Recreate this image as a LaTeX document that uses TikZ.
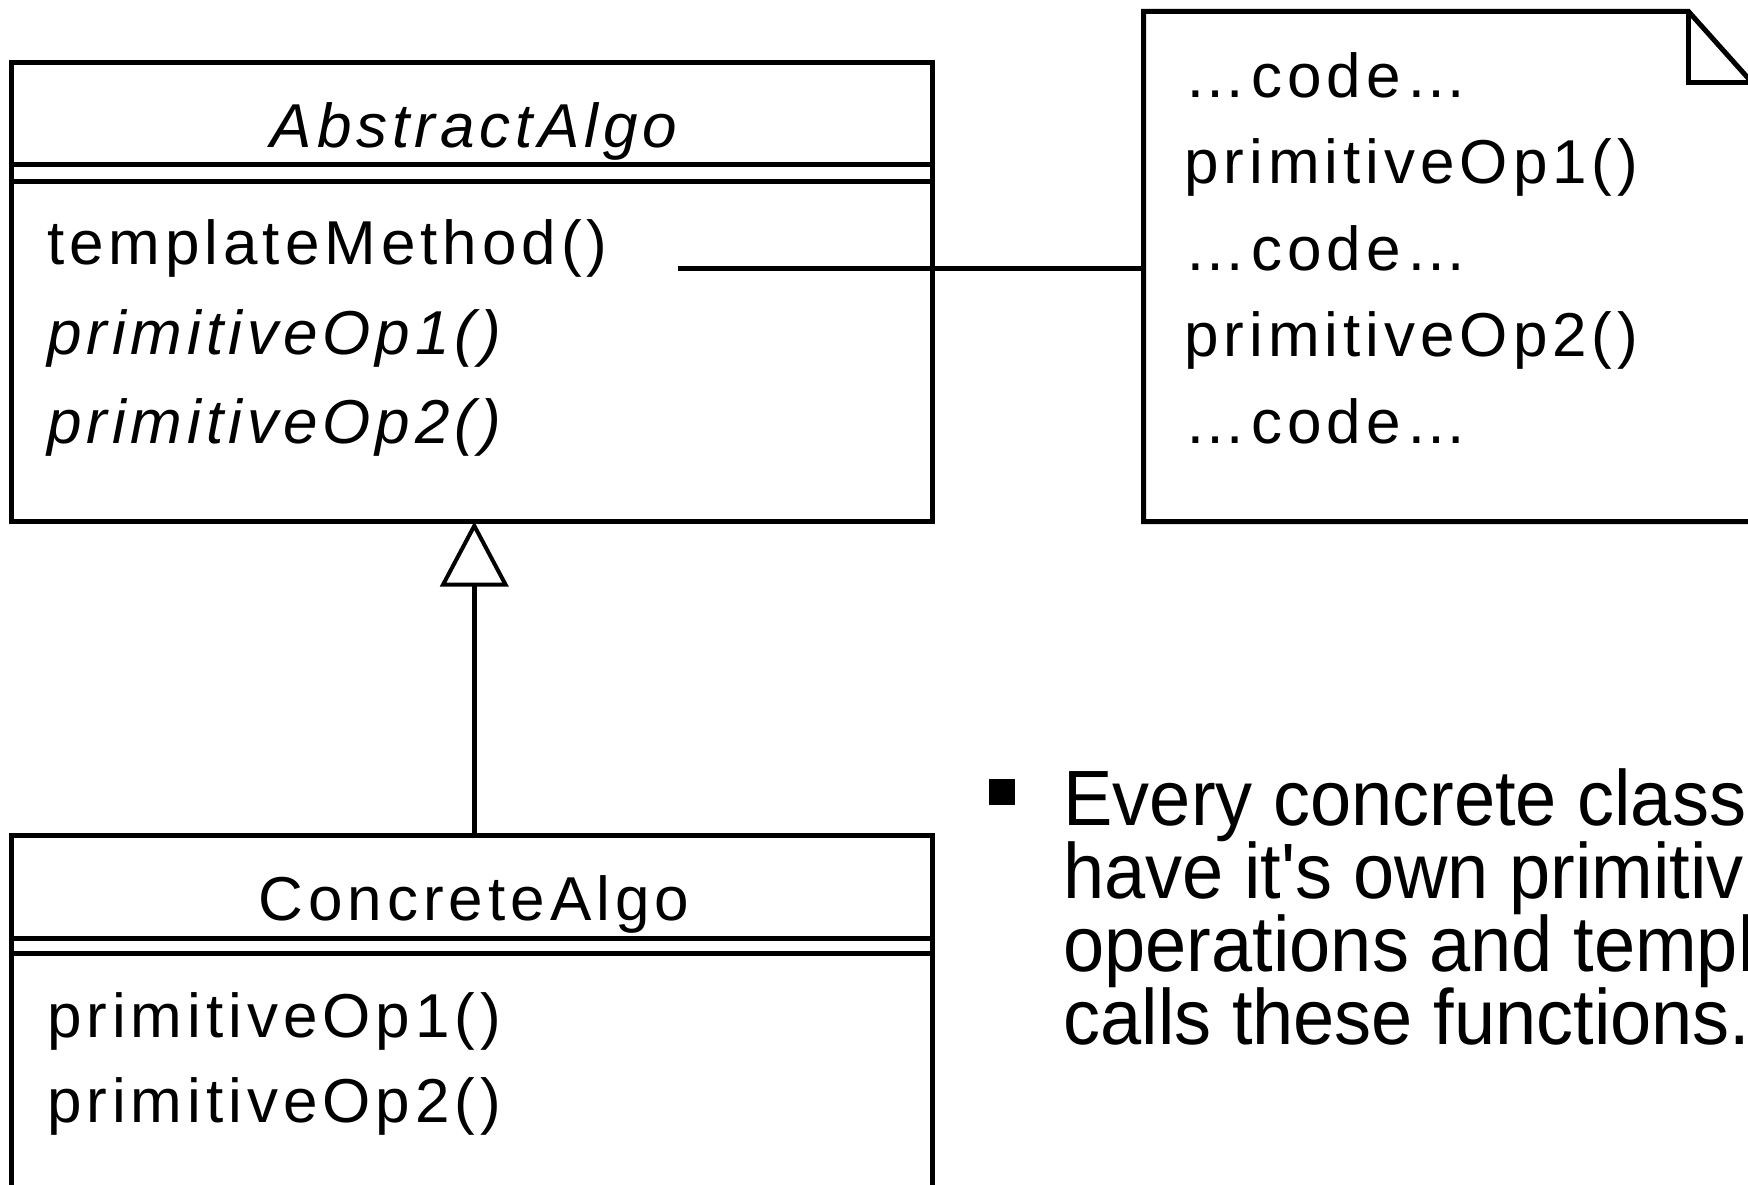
\documentclass[tikz,border=0pt]{standalone}
\usepackage{fontspec}
\setmainfont{Liberation Sans}
\newfontfamily\umlfont[LetterSpace=8]{Liberation Sans}
\newfontfamily\bodyfont[Ligatures=TeXOff]{Liberation Sans}
\usetikzlibrary{arrows.meta}
\newcommand{\tallline}[1]{\scalebox{1}[1.06]{#1}}
\begin{document}
\begin{tikzpicture}[x=1pt,y=-1pt,
  line width=5pt,
  umlbox/.style={draw, rectangle, line width=5pt, minimum width=921pt,
    inner sep=0pt, outer sep=0pt, anchor=north west},
  umltext/.style={anchor=base west, inner sep=0pt,
    font=\umlfont\fontsize{62}{62}\selectfont},
  umlabstract/.style={umltext, font=\umlfont\itshape\fontsize{62}{62}\selectfont},
  umltitle/.style={umltext, anchor=base},
  bullettext/.style={anchor=base west, inner sep=0pt,
    font=\bodyfont\fontsize{74}{74}\selectfont}]
  % canvas
  \useasboundingbox (0,0) rectangle (1748,1185);
  \fill[white] (0,0) rectangle (1748,1185);
  \clip (0,0) rectangle (1748,1185);

  % abstract class
  \node[umlbox, minimum height=458.5pt] (abs) at (11.5,63) {};
  \draw ([yshift=-102pt]abs.north west) -- ([yshift=-102pt]abs.north east);
  \draw ([yshift=-118.5pt]abs.north west) -- ([yshift=-118.5pt]abs.north east);
  \node[umltitle, font=\umlfont\itshape\fontsize{62}{62}\selectfont] (absname) at (474,148) {AbstractAlgo};
  \node[umltext] (tmpl) at (44.6,265) {templateMethod()};
  \node[umlabstract] (absop1) at (44.6,354) {primitiveOp1()};
  \node[umlabstract] (absop2) at (44.6,443) {primitiveOp2()};

  % concrete class
  \node[umlbox, minimum height=420pt] (con) at (11.5,835.7) {};
  \draw ([yshift=-102.8pt]con.north west) -- ([yshift=-102.8pt]con.north east);
  \draw ([yshift=-117.8pt]con.north west) -- ([yshift=-117.8pt]con.north east);
  \node[umltitle] (conname) at (474,920) {ConcreteAlgo};
  \node[umltext] (conop1) at (44.6,1037) {primitiveOp1()};
  \node[umltext] (conop2) at (44.6,1122) {primitiveOp2()};

  % generalization
  \draw[-{Triangle[open, length=65pt, width=68pt, line width=4pt]}]
    (con.north -| 474.3,0) -- (abs.south -| 474.3,0);

  % note with folded corner
  \node[rectangle, draw=none, inner sep=0pt, outer sep=0pt, anchor=north west,
        minimum width=608.5pt, minimum height=510pt] (note) at (1143.5,11.5) {};
  \draw[line join=miter] (note.north west) -- (1688.5,11.5) -- (1752,82.5)
    -- (note.south east) -- (note.south west) -- cycle;
  \draw[line join=miter] (1688.5,11.5) -- (1688.5,82.5) -- (1752,82.5);
  \node[umltext] (n1) at (1182,97.5) {…code…};
  \node[umltext] (n2) at (1182,184) {primitiveOp1()};
  \node[umltext] (n3) at (1182,270.3) {…code…};
  \node[umltext] (n4) at (1182,356.7) {primitiveOp2()};
  \node[umltext] (n5) at (1182,443) {…code…};

  % link from templateMethod() to the note
  \coordinate (linkstart) at (678,268.5);
  \draw (linkstart) -- (linkstart -| note.west);

  % bullet point
  \node[fill=black, rectangle, inner sep=0pt, minimum size=26pt] (bul) at (1002,792) {};
  \node[bullettext] (b1) at (1061,825) {\tallline{Every concrete class}};
  \node[bullettext] (b2) at (1061,898) {\tallline{have it's own primitiv}};
  \node[bullettext] (b3) at (1061,971) {\tallline{operations and templ}};
  \node[bullettext] (b4) at (1061,1044) {\tallline{calls these functions.}};
\end{tikzpicture}
\end{document}
